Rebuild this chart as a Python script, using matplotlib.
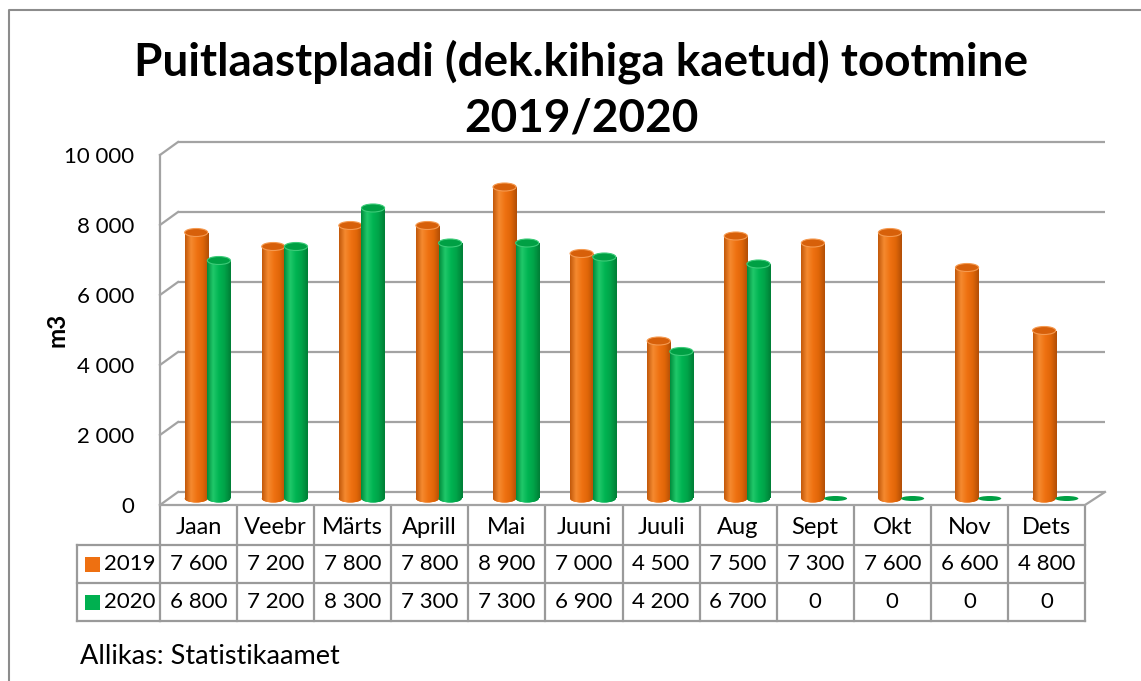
import numpy as np
import matplotlib
matplotlib.use("Agg")
import matplotlib.pyplot as plt
from matplotlib.patches import Ellipse, Rectangle
from matplotlib.colors import LinearSegmentedColormap
from matplotlib.transforms import blended_transform_factory

plt.rcParams['font.family'] = ['Lato', 'DejaVu Sans']

# ---- data ----
months = ["Jaan", "Veebr", "Märts", "Aprill", "Mai", "Juuni", "Juuli", "Aug",
          "Sept", "Okt", "Nov", "Dets"]
series_names = ["2019", "2020"]
values_2019 = [7600, 7200, 7800, 7800, 8900, 7000, 4500, 7500, 7300, 7600, 6600, 4800]
values_2020 = [6800, 7200, 8300, 7300, 7300, 6900, 4200, 6700, 0, 0, 0, 0]
yticks = [0, 2000, 4000, 6000, 8000, 10000]
title_line1 = "Puitlaastplaadi (dek.kihiga kaetud) tootmine"
title_line2 = "2019/2020"
ylabel = "m3"
source = "Allikas: Statistikaamet"

colors = {"2019": "#EE7011", "2020": "#00B050"}
grad = {
    "2019": ["#C2580A", "#F58A30", "#EF7212", "#E06608", "#B24E06"],
    "2020": ["#008C3C", "#20C86A", "#00B452", "#00A248", "#007E36"],
}
top_col = {"2019": "#D7600A", "2020": "#00A044"}
rim_col = {"2019": "#F59A50", "2020": "#3CCB78"}

def fmt(v):
    return f"{v:,}".replace(",", " ")

W, H = 1141, 681
fig = plt.figure(figsize=(W / 100, H / 100), dpi=100)

# overlay axes in pixel coordinates (for frame, title, table)
ov = fig.add_axes([0, 0, 1, 1])
ov.set_xlim(0, W)
ov.set_ylim(H, 0)
ov.axis("off")

# main plot axes: px left 160, right 1105, top 141, bottom 505
L, R, T, B = 160, 1105, 141, 505
ax = fig.add_axes([L / W, 1 - B / H, (R - L) / W, (B - T) / H])
colw = 925 / 12.0
xmin = -0.5
xmax = xmin + (R - L) / colw
pxu = 0.035  # px per unit
ymax = (B - T) / pxu
ax.axis("off")

dxd = 18 / colw
dyd = 13 / pxu
gc = "#A3A3A3"
glw = 1.6

# back wall gridlines + left diagonals
for v in yticks:
    ax.plot([xmin + dxd, xmax], [v + dyd, v + dyd], color=gc, lw=glw, clip_on=False,
            solid_capstyle="butt", zorder=1)
    ax.plot([xmin, xmin + dxd], [v, v + dyd], color=gc, lw=glw, clip_on=False, zorder=1)
ax.plot([xmin, xmin], [0, yticks[-1]], color=gc, lw=glw, clip_on=False, zorder=1)
ax.plot([11.5, xmax], [0, dyd], color=gc, lw=glw, clip_on=False, zorder=1)
ax.plot([xmin, 11.5], [0, 0], color=gc, lw=glw, clip_on=False, zorder=1)

# bars as shaded cylinders
x = np.arange(len(months))
bw = 0.30
shift = 9 / colw
base = 6.5 / pxu
eh_top = 8 / pxu
eh_zero = 5 / pxu
gx = np.linspace(0, 1, 64)[None, :]

for k, (name, vals) in enumerate([("2019", values_2019), ("2020", values_2020)]):
    off = shift + (-0.5 + k) * (bw - 0.006)
    cmap = LinearSegmentedColormap.from_list(name, grad[name])
    bars = ax.bar(x + off, vals, width=bw, bottom=base, color=colors[name],
                  edgecolor="none", zorder=3 + k)
    for xi, v, patch in zip(x, vals, bars):
        cx = xi + off
        if v <= 0:
            ax.add_patch(Ellipse((cx, base), bw, eh_zero, facecolor=top_col[name],
                                 edgecolor="none", zorder=3 + k))
            continue
        # bottom cap
        bot = Ellipse((cx, base), bw, eh_top, facecolor=colors[name], edgecolor="none",
                      zorder=3 + k)
        ax.add_patch(bot)
        im = ax.imshow(gx, cmap=cmap, extent=[cx - bw / 2, cx + bw / 2, base - eh_top, base + v],
                       aspect="auto", interpolation="bilinear", zorder=3 + k)
        im.set_clip_path(bot)
        im2 = ax.imshow(gx, cmap=cmap, extent=[cx - bw / 2, cx + bw / 2, base, base + v],
                        aspect="auto", interpolation="bilinear", zorder=3 + k)
        im2.set_clip_path(patch)
        ax.add_patch(Ellipse((cx, base + v), bw, eh_top, facecolor=top_col[name],
                             edgecolor=rim_col[name], lw=0.8, zorder=3 + k + 0.5))

ax.set_xlim(xmin, xmax)
ax.set_ylim(0, ymax)
ax.set_aspect("auto")

fs_num = 16
fs_cat = 17
# y tick labels
for v in yticks:
    ypx = B - v * pxu + 2
    ov.text(134, ypx, fmt(v), ha="right", va="center", fontsize=fs_num, color="#000000")

ov.text(57, 330, ylabel, rotation=90, ha="center", va="center", fontsize=17.5,
        fontweight="bold")

# title
ov.text(581, 62, title_line1, ha="center", va="center", fontsize=33, fontweight="bold")
ov.text(581, 119, title_line2, ha="center", va="center", fontsize=33, fontweight="bold")

# outer frame
ov.plot([9, 9, W + 5], [H + 5, 10, 10], color="#8C8C8C", lw=1.5, clip_on=False)

# data table
bt = blended_transform_factory(ax.transData, ov.transData)
tc = "#9A9A9A"
tlw = 1.6
r0, r1, r2, r3 = 507, 545, 583, 621
for i in range(len(months) + 1):
    ov.plot([i - 0.5, i - 0.5], [r0, r3], color=tc, lw=tlw, transform=bt, clip_on=False)
for yy in [r1, r2, r3]:
    ov.plot([xmin, 11.5], [yy, yy], color=tc, lw=tlw, transform=bt, clip_on=False)
    ov.plot([77, L], [yy, yy], color=tc, lw=tlw, clip_on=False)
ov.plot([77, 77], [r1, r3], color=tc, lw=tlw, clip_on=False)

for i, m in enumerate(months):
    ov.text(i, (r0 + r1) / 2 + 2, m, ha="center", va="center", fontsize=fs_cat, transform=bt)
    ov.text(i, (r1 + r2) / 2, fmt(values_2019[i]), ha="center", va="center",
            fontsize=fs_num, transform=bt)
    ov.text(i, (r2 + r3) / 2, fmt(values_2020[i]), ha="center", va="center",
            fontsize=fs_num, transform=bt)

for name, (ya, yb) in zip(series_names, [(r1, r2), (r2, r3)]):
    yc = (ya + yb) / 2
    ov.add_patch(Rectangle((85, yc - 7.5), 15, 15, facecolor=colors[name], edgecolor="none"))
    ov.text(104, yc, name, ha="left", va="center", fontsize=fs_num)

ov.text(80, 657, source, ha="left", va="center", fontsize=19.5)

fig.savefig("out.png", dpi=100)
